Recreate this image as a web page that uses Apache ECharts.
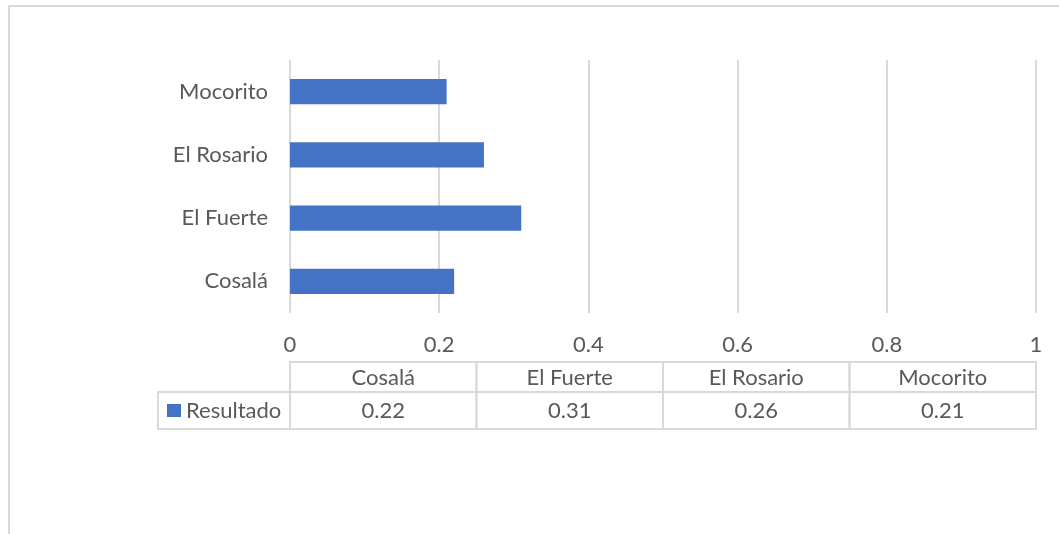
<!DOCTYPE html>
<html>
<head>
<meta charset="utf-8">
<script src="https://cdn.jsdelivr.net/npm/echarts@6/dist/echarts.min.js"></script>
<style>
  html, body { margin: 0; padding: 0; background: #ffffff; }
  #chart { width: 1059px; height: 534px; }
</style>
</head>
<body>
<div id="chart"></div>
<script>
// Municipalities and their result
const categories = ['Cosalá', 'El Fuerte', 'El Rosario', 'Mocorito'];
const values = [0.22, 0.31, 0.26, 0.21];
const seriesName = 'Resultado';
const valueMin = 0;
const valueMax = 1;
const valueStep = 0.2;

const FONT = 'Lato';
const FONT_SIZE = 22;
const TEXT = '#595959';
const LINE = '#d9d9d9';
const BAR = '#4472C4';

const chart = echarts.init(document.getElementById('chart'), null, { renderer: 'canvas' });

const option = {
  backgroundColor: '#ffffff',
  animation: false,
  textStyle: { fontFamily: FONT },
  grid: { left: 290, right: 23, top: 60, height: 253, containLabel: false },
  xAxis: {
    type: 'value',
    min: valueMin,
    max: valueMax,
    interval: valueStep,
    axisLine: { show: false },
    axisTick: { show: false },
    axisLabel: {
      color: TEXT, fontSize: FONT_SIZE, fontFamily: FONT, margin: 21,
      formatter: v => String(Math.round(v * 10) / 10)
    },
    splitLine: { show: true, lineStyle: { color: LINE, width: 2 } }
  },
  yAxis: {
    type: 'category',
    data: categories,
    axisLine: { show: false },
    axisTick: { show: false },
    axisLabel: { color: TEXT, fontSize: FONT_SIZE, fontFamily: FONT, margin: 22 },
    splitLine: { show: false }
  },
  series: [{
    name: seriesName,
    type: 'bar',
    data: values,
    barWidth: '40%',
    itemStyle: { color: BAR }
  }]
};
chart.setOption(option);

// Data table under the plot, aligned with the value axis extent
function buildTable() {
  const x0 = chart.convertToPixel({ xAxisIndex: 0 }, valueMin);
  const x1 = chart.convertToPixel({ xAxisIndex: 0 }, valueMax);
  const colW = (x1 - x0) / categories.length;
  const headTop = 362, headH = 30, rowH = 37;
  const rowTop = headTop + headH;
  const legendLeft = 158;
  const font = FONT_SIZE + 'px ' + FONT;
  const els = [];
  const cellStyle = { fill: 'none', stroke: LINE, lineWidth: 2 };

  // outer frame of the chart area
  els.push({ type: 'rect', shape: { x: 9, y: 6, width: 1070, height: 560 }, style: { fill: 'none', stroke: LINE, lineWidth: 2 }, silent: true });

  categories.forEach((c, i) => {
    const cx = x0 + colW * i;
    els.push({ type: 'rect', shape: { x: cx, y: headTop, width: colW, height: headH }, style: cellStyle, silent: true });
    els.push({ type: 'rect', shape: { x: cx, y: rowTop, width: colW, height: rowH }, style: cellStyle, silent: true });
    els.push({ type: 'text', x: cx + colW / 2, y: headTop + headH / 2 + 1,
      style: { text: c, fill: TEXT, font: font, align: 'center', verticalAlign: 'middle' }, silent: true });
    els.push({ type: 'text', x: cx + colW / 2, y: rowTop + rowH / 2,
      style: { text: values[i].toFixed(2), fill: TEXT, font: font, align: 'center', verticalAlign: 'middle' }, silent: true });
  });

  // series key cell
  els.push({ type: 'rect', shape: { x: legendLeft, y: rowTop, width: x0 - legendLeft, height: rowH }, style: cellStyle, silent: true });
  els.push({ type: 'rect', shape: { x: 167, y: rowTop + 12, width: 14, height: 13 }, style: { fill: BAR }, silent: true });
  els.push({ type: 'text', x: 186, y: rowTop + rowH / 2,
    style: { text: seriesName, fill: TEXT, font: font, align: 'left', verticalAlign: 'middle' }, silent: true });

  chart.setOption({ graphic: { elements: els } });
}
buildTable();
</script>
</body>
</html>
